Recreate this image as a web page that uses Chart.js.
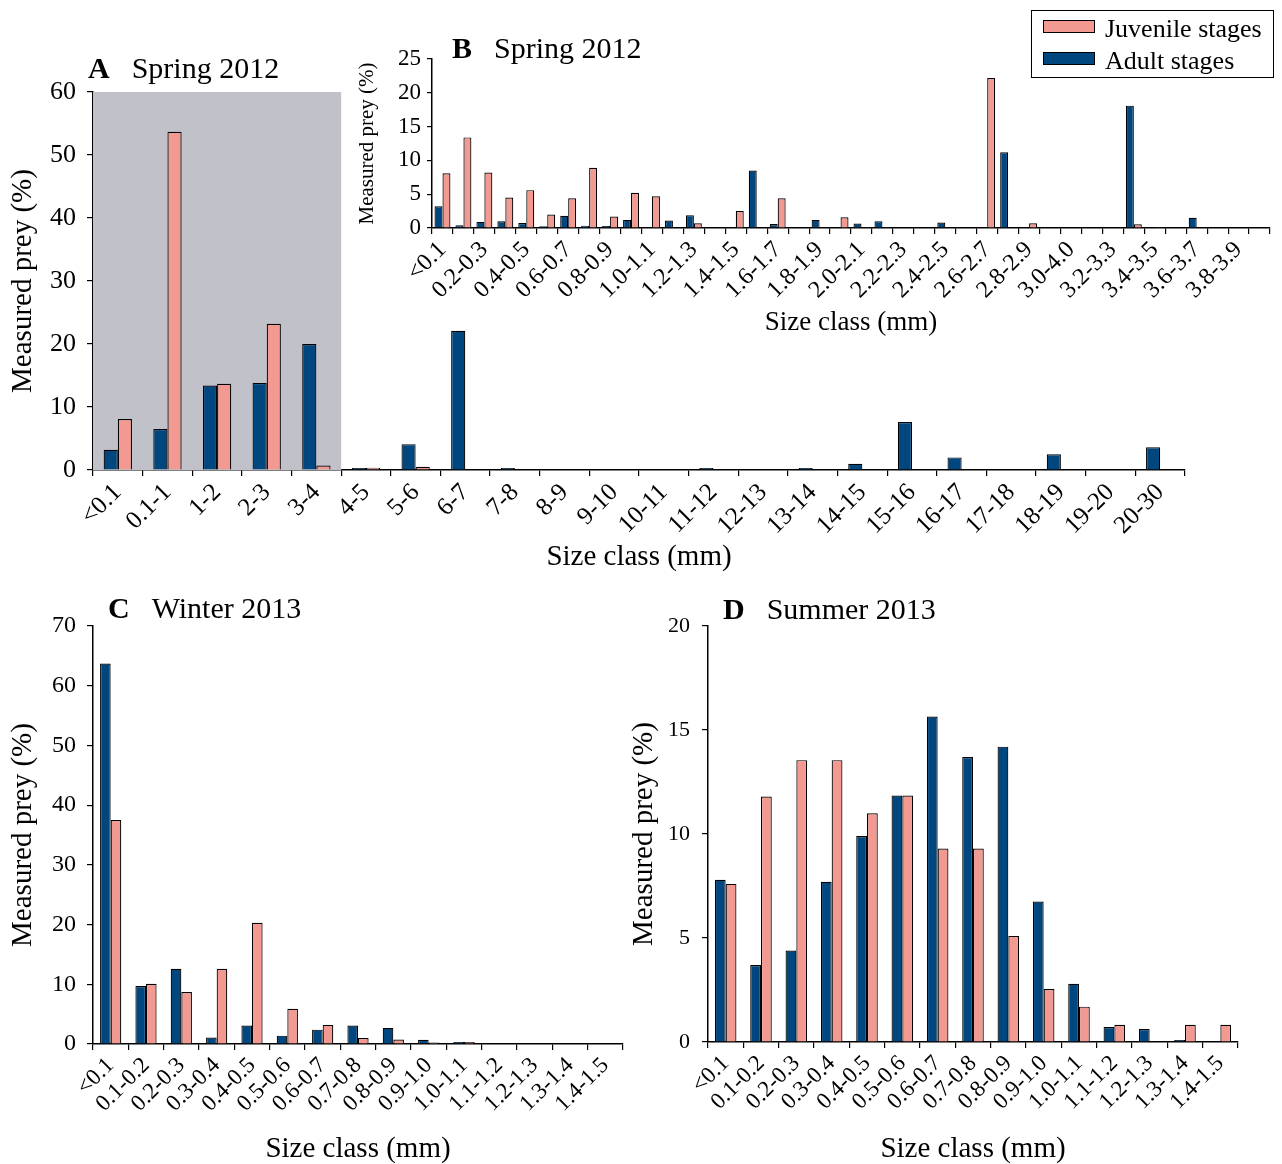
<!DOCTYPE html>
<html>
<head>
<meta charset="utf-8">
<title>Measured prey by size class</title>
<script src="https://cdn.jsdelivr.net/npm/chart.js@4.4.0/dist/chart.umd.min.js"></script>
<style>
  body { margin: 0; background: #fff; width: 1282px; height: 1164px; position: relative; overflow: hidden;
         font-family: "Liberation Serif", "Times New Roman", serif; color: #000; }
  canvas { position: absolute; }
  .panel-title { position: absolute; font-size: 30px; line-height: 30px; white-space: nowrap; }
  .panel-title span { margin-left: 22px; }
  #legend { position: absolute; left: 1031px; top: 10px; width: 241px; height: 66px; border: 1.5px solid #000; }
  #legend .item { position: absolute; left: 11px; font-size: 26px; line-height: 26px; white-space: nowrap; }
  #legend .swatch { display: inline-block; width: 50px; height: 11px; border: 1.2px solid #000; margin-right: 10px; vertical-align: 4px; }
</style>
</head>
<body>
<canvas id="chartA" width="1200" height="540" style="left:0;top:40px"></canvas>
<canvas id="chartB" width="932" height="310" style="left:350px;top:30px"></canvas>
<canvas id="chartC" width="640" height="584" style="left:0;top:580px"></canvas>
<canvas id="chartD" width="662" height="584" style="left:620px;top:580px"></canvas>

<div class="panel-title" style="left:88px;top:53px"><b>A</b><span>Spring 2012</span></div>
<div class="panel-title" style="left:452px;top:33px"><b>B</b><span>Spring 2012</span></div>
<div class="panel-title" style="left:108px;top:593px"><b>C</b><span>Winter 2013</span></div>
<div class="panel-title" style="left:723px;top:594px"><b>D</b><span>Summer 2013</span></div>
<div id="legend"></div>

<script>
const juvenileColor = '#f29a92'
const adultColor = '#00467f'
const shadeColor = '#c0c1c9'
const serif = '"Liberation Serif", "Times New Roman", serif'

// A - Spring 2012, coarse size classes
const sizeClassesA = ['<0.1', '0.1-1', '1-2', '2-3', '3-4', '4-5', '5-6', '6-7', '7-8', '8-9', '9-10',
  '10-11', '11-12', '12-13', '13-14', '14-15', '15-16', '16-17', '17-18', '18-19', '19-20', '20-30']
const adultA = [3.2, 6.5, 13.4, 13.8, 20.0, 0.3, 4.1, 22.1, 0.3, 0, 0, 0, 0.3, 0, 0.3, 1.0, 7.6, 2.0, 0, 2.5, 0, 3.6]
const juvenileA = [8.1, 53.7, 13.7, 23.2, 0.7, 0.35, 0.5, 0.1, 0, 0, 0.1, 0, 0, 0, 0, 0, 0, 0, 0, 0, 0, 0]
const shadedClassesA = 5   // the grey block covers <0.1 .. 3-4

// B - Spring 2012, the shaded part of A split into 0.1 mm classes
const sizeClassesB = ['<0.1', '0.1-0.2', '0.2-0.3', '0.3-0.4', '0.4-0.5', '0.5-0.6', '0.6-0.7', '0.7-0.8',
  '0.8-0.9', '0.9-1.0', '1.0-1.1', '1.1-1.2', '1.2-1.3', '1.3-1.4', '1.4-1.5', '1.5-1.6', '1.6-1.7',
  '1.7-1.8', '1.8-1.9', '1.9-2.0', '2.0-2.1', '2.1-2.2', '2.2-2.3', '2.3-2.4', '2.4-2.5', '2.5-2.6',
  '2.6-2.7', '2.7-2.8', '2.8-2.9', '2.9-3.0', '3.0-4.0', '3.1-3.2', '3.2-3.3', '3.3-3.4', '3.4-3.5',
  '3.5-3.6', '3.6-3.7', '3.7-3.8', '3.8-3.9', '3.9-4.0']
const adultB = [3.2, 0.4, 0.9, 1.0, 0.75, 0.25, 1.8, 0.35, 0.3, 1.2, 0.1, 1.1, 1.9, 0, 0.1, 8.5, 0.6, 0.05, 1.2, 0.05,
  0.65, 1.0, 0.05, 0, 0.8, 0.05, 0, 11.2, 0.1, 0, 0.05, 0, 0, 18.1, 0.1, 0, 1.5, 0, 0.05, 0.05]
const juvenileB = [8.1, 13.4, 8.2, 4.5, 5.6, 2.0, 4.4, 8.9, 1.7, 5.2, 4.7, 0, 0.7, 0, 2.5, 0, 4.4, 0.05, 0, 1.6,
  0.1, 0.1, 0.05, 0, 0, 0.05, 22.2, 0, 0.7, 0, 0.05, 0, 0, 0.55, 0.1, 0, 0, 0, 0.05, 0.05]

// C - Winter 2013 and D - Summer 2013
const sizeClassesCD = ['<0.1', '0.1-0.2', '0.2-0.3', '0.3-0.4', '0.4-0.5', '0.5-0.6', '0.6-0.7', '0.7-0.8',
  '0.8-0.9', '0.9-1.0', '1.0-1.1', '1.1-1.2', '1.2-1.3', '1.3-1.4', '1.4-1.5']
const adultC = [63.7, 9.7, 12.6, 1.1, 3.1, 1.4, 2.4, 3.1, 2.7, 0.7, 0.35, 0, 0.1, 0, 0.05]
const juvenileC = [37.5, 10.1, 8.7, 12.6, 20.3, 5.9, 3.2, 1.0, 0.75, 0.25, 0.35, 0, 0, 0, 0]
const adultD = [7.8, 3.7, 4.4, 7.7, 9.9, 11.85, 15.65, 13.7, 14.2, 6.75, 2.8, 0.72, 0.62, 0.1, 0]
const juvenileD = [7.6, 11.8, 13.55, 13.55, 11.0, 11.85, 9.3, 9.3, 5.1, 2.55, 1.7, 0.83, 0, 0.83, 0.83]

// grey background behind the first classes of panel A
const shadePlugin = {
  id: 'shade',
  beforeDatasetsDraw(chart, args, opts) {
    if (!opts.count) return
    const x = chart.scales.x
    const area = chart.chartArea
    const edge = (x.getPixelForValue(opts.count - 1) + x.getPixelForValue(opts.count)) / 2
    const ctx = chart.ctx
    ctx.save()
    ctx.fillStyle = shadeColor
    ctx.fillRect(area.left, area.top, edge - area.left, area.bottom - area.top)
    ctx.restore()
  }
}

const makeBarChart = (id, labels, adult, juvenile, cfg) => {
  const barStyle = {
    borderColor: '#000',
    borderWidth: 1.2,
    borderSkipped: 'start',
    categoryPercentage: cfg.catPct,
    barPercentage: 1
  }
  return new Chart(document.getElementById(id), {
    type: 'bar',
    data: {
      labels: labels,
      datasets: [
        { label: 'Adult stages', data: adult, backgroundColor: adultColor, ...barStyle },
        { label: 'Juvenile stages', data: juvenile, backgroundColor: juvenileColor, ...barStyle }
      ]
    },
    plugins: [shadePlugin],
    options: {
      responsive: false,
      animation: false,
      events: [],
      layout: { padding: { top: cfg.top, right: cfg.right, left: 0, bottom: 0 } },
      plugins: {
        legend: { display: false },
        tooltip: { enabled: false },
        shade: { count: cfg.shade || 0 }
      },
      scales: {
        x: {
          grid: { offset: true, drawOnChartArea: false, drawTicks: true, tickLength: 6, color: '#000', lineWidth: 1.2 },
          border: { display: true, color: '#000', width: 1.5 },
          ticks: {
            autoSkip: false,
            minRotation: 45,
            maxRotation: 45,
            padding: 2,
            color: '#000',
            font: { family: serif, size: cfg.xTick },
            callback: (value, index) => (cfg.every && index % cfg.every) ? '' : labels[index]
          },
          title: {
            display: true,
            text: 'Size class (mm)',
            color: '#000',
            font: { family: serif, size: cfg.xTitle, lineHeight: 1 },
            padding: { top: 0, bottom: cfg.xTitlePad }
          },
          afterFit: (scale) => { scale.height = cfg.xHeight }
        },
        y: {
          min: 0,
          max: cfg.yMax,
          grid: { drawOnChartArea: false, drawTicks: true, tickLength: cfg.yTickLen, color: '#000', lineWidth: 1.2 },
          border: { display: true, color: '#000', width: 1.5 },
          ticks: {
            stepSize: cfg.yStep,
            padding: cfg.yTickPad,
            color: '#000',
            font: { family: serif, size: cfg.yTick }
          },
          title: {
            display: true,
            text: 'Measured prey (%)',
            color: '#000',
            font: { family: serif, size: cfg.yTitle, lineHeight: 1 },
            padding: { top: cfg.yTitlePad, bottom: 0 }
          },
          afterFit: (scale) => { scale.width = cfg.yWidth }
        }
      }
    }
  })
}

makeBarChart('chartA', sizeClassesA, adultA, juvenileA, {
  catPct: 0.57, top: 52, right: 15, xHeight: 110, yWidth: 93, yMax: 60, yStep: 10,
  xTick: 25, yTick: 26, xTitle: 29, yTitle: 29, xTitlePad: 8, yTitlePad: 9, yTickLen: 6, yTickPad: 11,
  shade: shadedClassesA
})

makeBarChart('chartB', sizeClassesB, adultB, juvenileB, {
  catPct: 0.76, top: 29, right: 7, xHeight: 112, yWidth: 82, yMax: 25, yStep: 5,
  xTick: 24, yTick: 23, xTitle: 27, yTitle: 21, xTitlePad: 4, yTitlePad: 7, yTickLen: 5, yTickPad: 6,
  every: 2
})

makeBarChart('chartC', sizeClassesCD, adultC, juvenileC, {
  catPct: 0.6, top: 46, right: 17, xHeight: 120, yWidth: 93, yMax: 70, yStep: 10,
  xTick: 23, yTick: 24, xTitle: 29, yTitle: 29, xTitlePad: 0, yTitlePad: 9, yTickLen: 6, yTickPad: 11
})

makeBarChart('chartD', sizeClassesCD, adultD, juvenileD, {
  catPct: 0.61, top: 46, right: 44, xHeight: 122, yWidth: 88, yMax: 20, yStep: 5,
  xTick: 23, yTick: 22, xTitle: 29, yTitle: 29, xTitlePad: 0, yTitlePad: 10, yTickLen: 6, yTickPad: 12
})

// legend box in the top right corner (juvenile listed first, as in the figure)
const legendItems = [
  { text: 'Juvenile stages', color: juvenileColor, top: 5 },
  { text: 'Adult stages', color: adultColor, top: 37 }
]
const legend = document.getElementById('legend')
legendItems.forEach(item => {
  const row = document.createElement('div')
  row.className = 'item'
  row.style.top = item.top + 'px'
  const swatch = document.createElement('span')
  swatch.className = 'swatch'
  swatch.style.background = item.color
  row.appendChild(swatch)
  row.appendChild(document.createTextNode(item.text))
  legend.appendChild(row)
})
</script>
</body>
</html>
